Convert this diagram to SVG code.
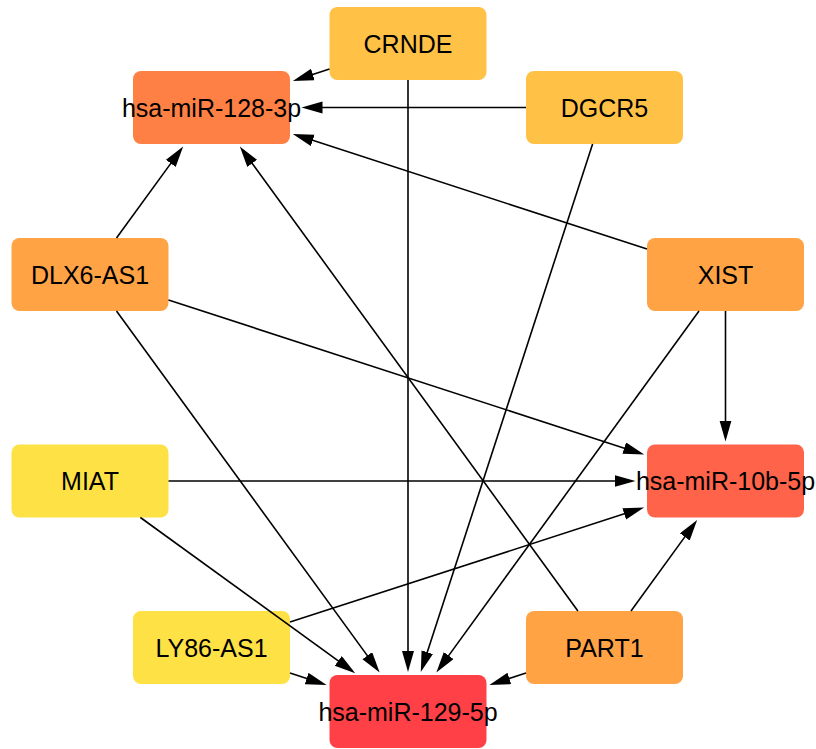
<svg xmlns="http://www.w3.org/2000/svg" width="816" height="749" viewBox="0 0 816 749">
  <style>
    .node rect { stroke: none; }
    .node text { font-family: "Liberation Sans", Arial, sans-serif; font-size: 25px; fill: #000; text-anchor: middle; }
    .edge { stroke: #000; stroke-width: 1.6; fill: none; marker-end: url(#arrow); }
    .gold { fill: #FFC247; }
    .orange { fill: #FFA345; }
    .yellow { fill: #FEE245; }
    .mir128 { fill: #FF8045; }
    .mir10b { fill: #FF634A; }
    .mir129 { fill: #FF4147; }
  </style>
  <defs>
    <marker id="arrow" markerUnits="userSpaceOnUse" markerWidth="22" markerHeight="13" refX="9" refY="6" orient="auto">
      <path d="M0,0 L21,6 L0,12 z" fill="#000"/>
    </marker>
  </defs>
  <rect width="816" height="749" fill="#fff"/>

  <g id="nodes">
    <g id="CRNDE" class="node"><rect class="gold" x="329.5" y="7" width="157" height="73" rx="8"/><text x="408" y="52.5">CRNDE</text></g>
    <g id="hsa-miR-128-3p" class="node"><rect class="mir128" x="133" y="71" width="157" height="73" rx="8"/><text x="211.5" y="116.5">hsa-miR-128-3p</text></g>
    <g id="DGCR5" class="node"><rect class="gold" x="526" y="71" width="157" height="73" rx="8"/><text x="604.5" y="116.5">DGCR5</text></g>
    <g id="DLX6-AS1" class="node"><rect class="orange" x="11.5" y="238" width="157" height="73" rx="8"/><text x="90" y="283.5">DLX6-AS1</text></g>
    <g id="XIST" class="node"><rect class="orange" x="647" y="238" width="157" height="73" rx="8"/><text x="725.5" y="283.5">XIST</text></g>
    <g id="MIAT" class="node"><rect class="yellow" x="11.5" y="444.5" width="157" height="73" rx="8"/><text x="90" y="490">MIAT</text></g>
    <g id="hsa-miR-10b-5p" class="node"><rect class="mir10b" x="647" y="444.5" width="157" height="73" rx="8"/><text x="725.5" y="490">hsa-miR-10b-5p</text></g>
    <g id="LY86-AS1" class="node"><rect class="yellow" x="133" y="611" width="157" height="73" rx="8"/><text x="211.5" y="656.5">LY86-AS1</text></g>
    <g id="PART1" class="node"><rect class="orange" x="526" y="611" width="157" height="73" rx="8"/><text x="604.5" y="656.5">PART1</text></g>
    <g id="hsa-miR-129-5p" class="node"><rect class="mir129" x="329.5" y="675" width="157" height="73" rx="8"/><text x="408" y="720.5">hsa-miR-129-5p</text></g>
  </g>

  <g id="connectors">
    <!-- targets: hsa-miR-128-3p -->
    <line class="edge" x1="329.5" y1="69.1" x2="304.3" y2="77.3"/>
    <line class="edge" x1="526" y1="107.5" x2="313.5" y2="107.5"/>
    <line class="edge" x1="647" y1="249" x2="304.2" y2="137.6"/>
    <line class="edge" x1="116.5" y1="238" x2="176.1" y2="156.1"/>
    <line class="edge" x1="577.9" y1="611" x2="246.9" y2="156.1"/>
    <!-- targets: hsa-miR-129-5p -->
    <line class="edge" x1="408" y1="80" x2="408" y2="660"/>
    <line class="edge" x1="592.6" y1="144" x2="424.5" y2="660.7"/>
    <line class="edge" x1="699" y1="311" x2="443.4" y2="662.9"/>
    <line class="edge" x1="116.5" y1="311" x2="372.6" y2="662.9"/>
    <line class="edge" x1="140.4" y1="517.5" x2="345.5" y2="666.2"/>
    <line class="edge" x1="290" y1="673.1" x2="315.2" y2="681.3"/>
    <line class="edge" x1="526" y1="673.1" x2="500.8" y2="681.3"/>
    <!-- targets: hsa-miR-10b-5p -->
    <line class="edge" x1="725.5" y1="311" x2="725.5" y2="429.5"/>
    <line class="edge" x1="168.5" y1="300" x2="632.8" y2="450.9"/>
    <line class="edge" x1="168.5" y1="481" x2="623.5" y2="481"/>
    <line class="edge" x1="290" y1="622.1" x2="632.8" y2="511.1"/>
    <line class="edge" x1="631" y1="611" x2="690.1" y2="529.6"/>
  </g>
</svg>
